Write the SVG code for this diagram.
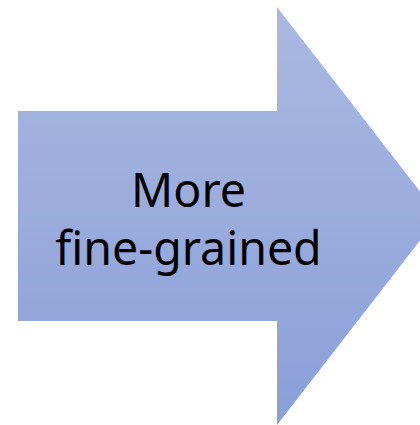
<svg xmlns="http://www.w3.org/2000/svg" width="420" height="425" viewBox="0 0 420 425">
<defs>
<linearGradient id="g" x1="0" y1="7" x2="0" y2="425" gradientUnits="userSpaceOnUse">
<stop offset="0" stop-color="#abb9e1"/>
<stop offset="1" stop-color="#8a9fd8"/>
</linearGradient>
<style>.t{font-family:"Noto Sans","Open Sans",sans-serif;font-size:46.5px;fill:#000;text-anchor:middle}</style>
</defs>
<g id="arrow">
<polygon points="18,111 277,111 277,7 439,216 277,425 277,321 18,321" fill="url(#g)"/>
<text class="t" x="188.5" y="207">More</text>
<text class="t" x="188.5" y="265">fine-grained</text>
</g>
</svg>
